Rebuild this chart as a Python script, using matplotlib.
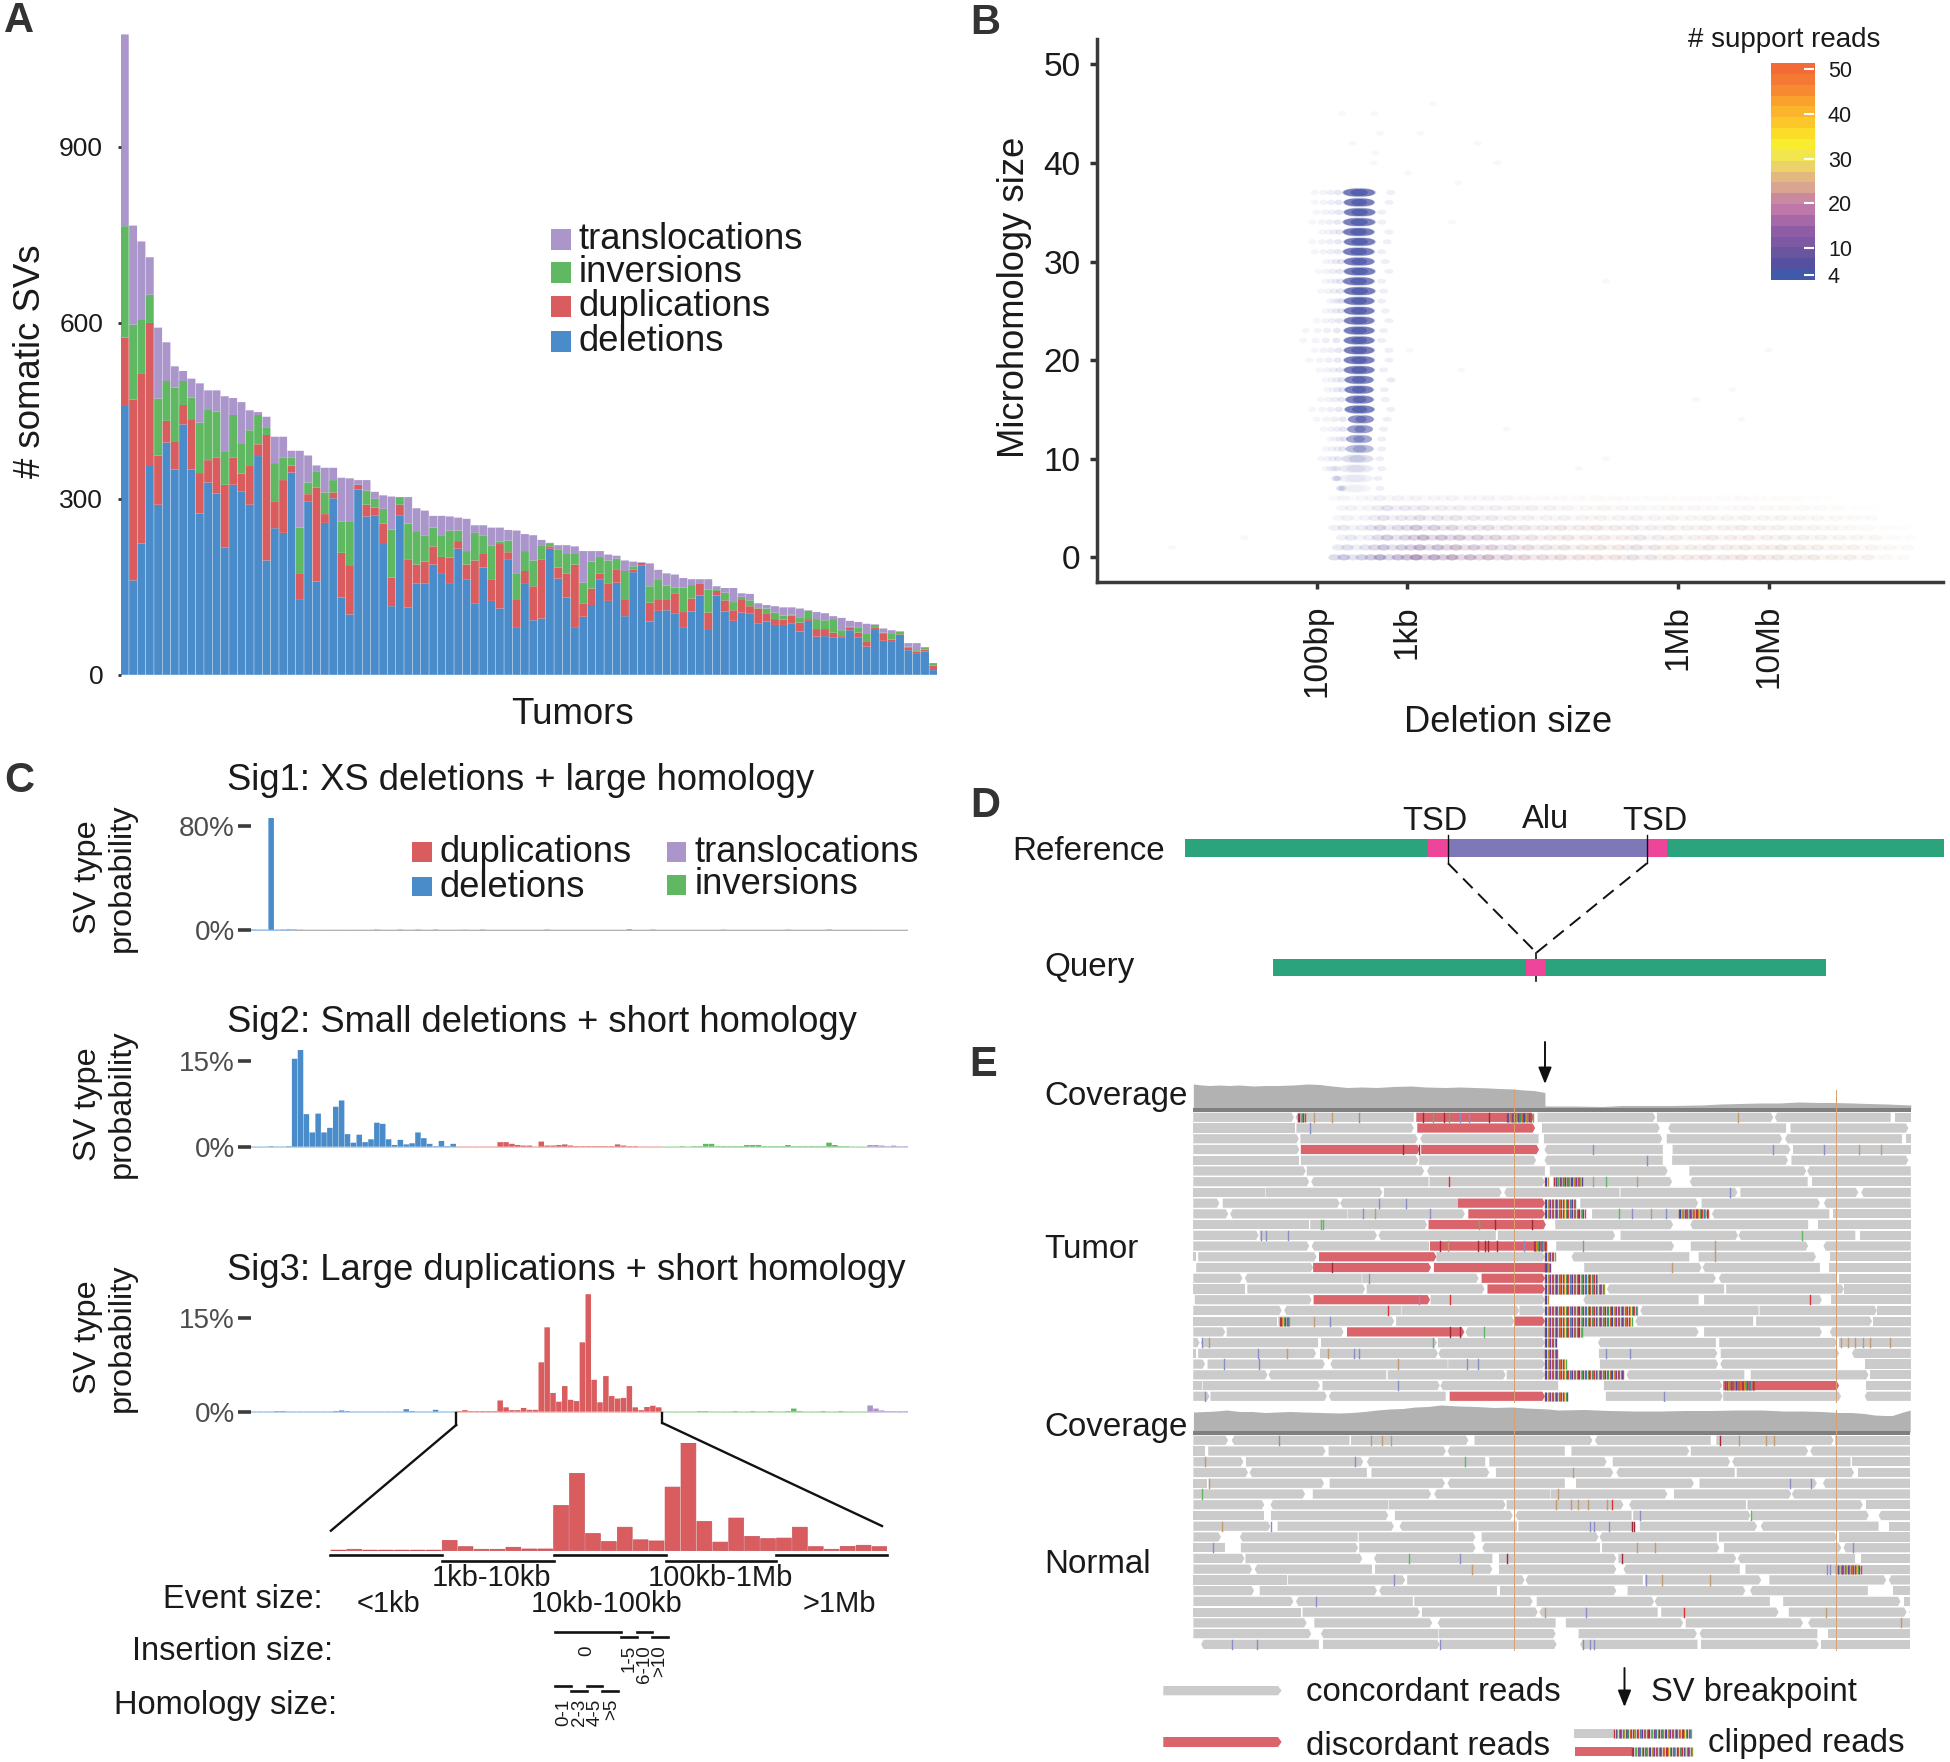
import matplotlib
matplotlib.use('Agg')
import matplotlib.pyplot as plt
import numpy as np
from matplotlib.collections import PolyCollection
from matplotlib.colors import ListedColormap
from matplotlib.patches import Ellipse, Rectangle

plt.rcParams['font.family'] = ['Liberation Sans', 'DejaVu Sans']

W, H = 1950, 1762
BLUE, RED, GREEN, PURPLE = '#4a8bca', '#d95d5e', '#60b862', '#aa96ca'
TXT = '#1a1a1a'

# ---- panel A: stacked tops per tumor
a_del = [460, 161, 224, 356, 290, 396, 350, 427, 350, 275, 328, 309, 217, 324, 313, 290, 373, 195, 250, 242,
         345, 129, 295, 159, 259, 301, 132, 103, 316, 270, 272, 223, 117, 272, 115, 156, 156, 188, 172, 155,
         215, 163, 122, 183, 126, 113, 196, 80, 155, 93, 96, 215, 164, 132, 80, 99, 119, 163, 126, 157,
         100, 175, 186, 91, 109, 110, 105, 80, 108, 135, 78, 135, 108, 92, 106, 105, 87, 91, 85, 85,
         87, 74, 92, 65, 66, 64, 63, 76, 64, 48, 78, 58, 56, 68, 42, 37, 40, 8]
a_dup_top = [575, 469, 513, 600, 374, 433, 397, 460, 436, 344, 366, 370, 324, 370, 343, 356, 393, 409, 296, 332,
             357, 172, 308, 319, 274, 311, 208, 187, 324, 290, 285, 258, 166, 290, 197, 188, 193, 219, 201, 200,
             228, 188, 195, 206, 163, 223, 209, 129, 177, 151, 196, 219, 183, 173, 188, 121, 147, 173, 155, 180,
             129, 179, 191, 123, 129, 129, 138, 107, 130, 156, 106, 143, 127, 110, 129, 117, 113, 105, 95, 94,
             101, 89, 95, 78, 78, 72, 66, 80, 72, 56, 80, 71, 60, 69, 47, 40, 43, 16]
a_inv_top = [765, 597, 605, 648, 471, 501, 490, 501, 473, 430, 453, 449, 380, 443, 395, 417, 443, 421, 361, 370,
             370, 251, 328, 346, 311, 332, 261, 262, 324, 314, 300, 283, 248, 303, 258, 245, 237, 251, 238, 246,
             246, 211, 242, 237, 220, 227, 229, 172, 211, 195, 221, 223, 213, 206, 206, 157, 193, 201, 195, 198,
             177, 185, 191, 151, 163, 152, 149, 149, 153, 156, 145, 146, 140, 124, 133, 127, 114, 113, 106, 101,
             103, 97, 109, 95, 93, 95, 76, 82, 80, 71, 85, 72, 71, 74, 48, 42, 47, 20]
a_total = [1092, 766, 739, 712, 592, 567, 526, 518, 505, 497, 485, 485, 475, 472, 465, 451, 448, 440, 406, 406,
           382, 382, 374, 357, 353, 353, 336, 335, 332, 332, 312, 306, 304, 303, 303, 284, 280, 271, 271, 270,
           268, 266, 255, 255, 251, 251, 247, 246, 240, 238, 230, 225, 221, 221, 219, 211, 211, 211, 205, 203,
           195, 193, 192, 190, 179, 173, 171, 165, 163, 163, 163, 151, 148, 148, 139, 138, 122, 119, 117, 115,
           115, 113, 110, 107, 105, 100, 97, 92, 90, 87, 86, 79, 76, 74, 54, 54, 47, 20]
a_ticks = [0, 300, 600, 900]

# ---- panel B
mh_rows = list(range(7, 38))
blob_strength = [.05, .08, .12, .2, .42, .58, .66, .76, .9, .86, .9, .88, .92, .92, .94, .94, .95, .92, .94, .94,
                 .96, .92, .95, .92, .94, .95, .96, .92, .94, .94, .96]
blob_left = [2.25, 2.24, 2.25, 2.28, 2.33, 2.34, 2.35, 2.36, 2.32, 2.33, 2.32, 2.32, 2.31, 2.31, 2.31, 2.31, 2.31,
             2.31, 2.31, 2.31, 2.31, 2.30, 2.31, 2.31, 2.30, 2.31, 2.30, 2.30, 2.31, 2.31, 2.30]
blob_right = [2.6, 2.62, 2.62, 2.62, 2.62, 2.6, 2.61, 2.62, 2.63, 2.62, 2.62, 2.62, 2.63, 2.63, 2.63, 2.63, 2.63,
              2.63, 2.63, 2.63, 2.64, 2.63, 2.64, 2.63, 2.63, 2.64, 2.63, 2.64, 2.64, 2.63, 2.64]
tail_left = [2.3, 2.2, 2.1, 2.05, 2.1, 2.15, 2.08, 2.0, 1.95, 2.05, 2.12, 2.1, 2.03, 1.92, 1.98, 1.85, 1.88, 2.0,
             2.1, 2.15, 2.05, 2.1, 2.02, 2.1, 1.98, 1.95, 2.06, 1.95, 2.0, 1.98, 1.98]
tail_right = [2.7, 2.68, 2.72, 2.7, 2.72, 2.72, 2.74, 2.78, 2.82, 2.76, 2.75, 2.82, 2.74, 2.8, 2.8, 2.72, 2.74, 2.8,
              2.76, 2.72, 2.74, 2.72, 2.8, 2.76, 2.72, 2.78, 2.8, 2.72, 2.72, 2.8, 2.82]
band_sizes = [2.35, 2.75, 3.15, 3.55, 3.95, 4.35, 4.75, 5.15, 5.55, 5.95, 6.35, 6.75, 7.15, 7.55, 7.95, 8.35]
band_colors = ['#7e80b8', '#8a78b0', '#9478a8', '#a07ca4', '#a985a4', '#b88ea2', '#c0989c', '#c89c94',
               '#bca0ac', '#c8a898', '#c8a09c', '#cca89a', '#c8ac98', '#d0b098', '#d4b4a0', '#d8bca8']
band_alpha = [[25, 35, 42, 36, 30, 22, 20, 18, 18, 16, 16, 18, 16, 14, 12, 5],
              [15, 25, 32, 28, 22, 18, 16, 16, 18, 14, 14, 14, 16, 12, 10, 6],
              [10, 22, 30, 25, 20, 14, 14, 12, 14, 12, 12, 12, 12, 10, 8, 3],
              [10, 18, 24, 18, 16, 14, 14, 14, 12, 12, 10, 12, 10, 8, 5, 2],
              [6, 12, 14, 12, 10, 8, 8, 8, 8, 8, 8, 8, 8, 6, 4, 0],
              [6, 12, 10, 8, 8, 8, 6, 6, 5, 6, 4, 5, 4, 3, 1, 0],
              [4, 6, 5, 5, 5, 3, 3, 3, 2, 2, 2, 3, 2, 1, 0, 0]]
stray_size = [2.28, 2.64, 3.29, 2.70, 3.15, 2.40, 3.78, 2.65, 2.63, 4.0, 3.01, 3.57, 3.5, 3.03, 2.83, 5.2,
              5.2, 7.0, 4.9, 3.6, 4.1, 1.2, 0.4, 6.6, 6.7, 6.2]
stray_mh = [45, 45, 46, 43, 43, 42, 42, 41, 40, 40, 39, 38, 34, 21, 18, 28,
            10, 21, 9, 19, 13, 2, 1, 17, 14, 16]
b_xticks = [2, 3, 6, 7]
b_xlabels = ['100bp', '1kb', '1Mb', '10Mb']
b_yticks = [0, 10, 20, 30, 40, 50]
cbar_colors = ['#4059a8', '#55509f', '#6a559f', '#7d58a3', '#8e5da6', '#a768a8', '#bd78a9', '#c98aa0', '#d9a590',
               '#e3b87f', '#ebd36a', '#f2e64f', '#f8ec2f', '#fbdc28', '#fcc829', '#fbb42b', '#f9a02d', '#f78a30',
               '#f47a33', '#f26b36']
cbar_ticks = [4, 10, 20, 30, 40, 50]

# ---- panel C: 35 bins for del, dup, inv and 7 for translocations
sig1_del = [.3, .2, .2, 86, .2, .3, .4, .3, .2, .1, .1, .1, .1, .1, .1, .1, .1, .1, .1, .1,
            .1, .3, .1, .1, .1, .3, .1, .1, .3, .1, .1, .3, .1, .1, .1]
sig1_dup = [.1, .2, .1, .1, .3, .1, .1, .1, .1, .1, .1, .1, .1, .1, .1, .3, .1, .1, .1, .1,
            .1, .1, .1, .1, .1, .1, .1, .1, .1, .5, .1, .1, .1, .3, .1]
sig1_inv = [.1, .1, .1, .1, .1, .1, .1, .1, .1, .1, .3, .1, .1, .1, .1, .1, .1, .1, .1, .1,
            .1, .3, .1, .1, .1, .1, .1, .1, .4, .1, .1, .1, .1, .1, .1]
sig1_tra = [.1, .1, .1, .1, .1, .1, .1]
sig2_del = [.05, .05, .05, .1, .05, .05, .1, 15.4, 17.1, 5.7, 2.5, 5.8, 2.5, 3.3, 7.0, 8.1, 2.2, .7, 2.1, .8,
            1.3, 4.2, 4.0, 1.3, .3, 1.2, .4, .6, 2.5, 1.5, .5, .1, 1.0, .1, .5]
sig2_dup = [.05, .05, .05, .05, .05, .05, .05, .8, .8, .5, .3, .2, .2, .05, .9, .2, .2, .3, .4, .2,
            .1, .1, .1, .1, .1, .1, .1, .4, .2, .1, .1, .05, .05, .05, .05]
sig2_inv = [.05, .05, .05, .1, .05, .1, .1, .5, .5, .1, .1, .1, .1, .1, .3, .3, .3, .1, .1, .1,
            .1, .3, .1, .1, .1, .1, .1, .1, .7, .3, .1, .1, .05, .05, .05]
sig2_tra = [.3, .3, .2, .1, .2, .1, .1]
sig3_del = [.05, .05, .05, .05, .1, .1, .05, .05, .05, .05, .05, .05, .05, .05, .1, .2, .1, .05, .05, .05,
            .05, .05, .05, .05, .05, .05, .4, .1, .05, .05, .05, .3, .05, .05, .05]
sig3_dup = [.1, .25, .1, .1, .1, .1, .1, 1.8, .7, .25, .25, .6, .3, .3, 7.9, 13.5, 3.0, 1.6, 4.1, 1.9,
            1.7, 11.1, 18.8, 5.1, 1.5, 5.7, 2.5, 2.1, 2.2, 4.1, .7, .25, .75, .95, .7]
sig3_inv = [.05, .05, .05, .05, .05, .05, .1, .1, .05, .05, .05, .05, .1, .05, .05, .1, .05, .05, .1, .05,
            .05, .1, .5, .1, .05, .05, .05, .1, .05, .05, .1, .05, .05, .05, .05]
sig3_tra = [1.0, .5, .2, .1, .1, .1, .1]

# ---- panel E: reads in track coordinates
tumor_reads = [
    [(27, 232), (235, 476), (728, 968), (971, 1208), (1211, 1447), (1456, 1488)],
    [(27, 235), (237, 476), (737, 977), (994, 1234), (1243, 1483)],
    [(27, 242), (245, 484), (489, 730), (741, 982), (991, 1226), (1232, 1470), (1478, 1488)],
    [(27, 243), (742, 983), (1003, 1243), (1248, 1488)],
    [(27, 243), (246, 485), (487, 725), (742, 983), (1002, 1238), (1245, 1483)],
    [(27, 256), (258, 497), (503, 743), (753, 993), (1037, 1275), (1277, 1488)],
    [(27, 263), (267, 506), (508, 743), (760, 1002), (1038, 1278), (1286, 1488)],
    [(27, 172), (174, 412), (415, 655), (660, 895), (897, 1135), (1141, 1381), (1387, 1488)],
    [(27, 80), (87, 325), (326, 566), (815, 1055), (1062, 1303), (1311, 1488)],
    [(27, 98), (102, 341), (342, 580), (839, 1075), (1083, 1322), (1330, 1488)],
    [(27, 263), (265, 503), (764, 1004), (1039, 1279), (1299, 1488)],
    [(27, 160), (162, 401), (404, 643), (647, 886), (897, 1136), (1137, 1375), (1385, 1488)],
    [(27, 263), (268, 507), (766, 1006), (1040, 1279), (1310, 1488)],
    [(27, 33), (37, 278), (522, 743), (797, 1037), (1056, 1295), (1323, 1488)],
    [(33, 271), (823, 1062), (1064, 1303), (1321, 1488)],
    [(27, 127), (132, 370), (371, 608), (852, 1091), (1097, 1336), (1341, 1488)],
    [(27, 132), (137, 377), (380, 620), (869, 1108), (1112, 1352), (1352, 1488)],
    [(30, 268), (510, 743), (821, 1056), (1067, 1307), (1325, 1488)],
    [(27, 207), (212, 451), (452, 691), (691, 743), (937, 1178), (1180, 1419), (1420, 1488)],
    [(27, 198), (200, 436), (440, 681), (927, 1167), (1173, 1409), (1411, 1488)],
    [(27, 92), (95, 333), (581, 743), (820, 1056), (1067, 1307), (1323, 1488)],
    [(27, 40), (42, 281), (287, 523), (525, 743), (851, 1091), (1098, 1338), (1342, 1488)],
    [(27, 33), (37, 277), (285, 525), (526, 743), (853, 1094), (1101, 1342), (1368, 1488)],
    [(27, 51), (56, 295), (306, 545), (546, 743), (855, 1096), (1100, 1339), (1395, 1488)],
    [(27, 178), (180, 420), (423, 663), (665, 743), (909, 1149), (1162, 1402), (1404, 1488)],
    [(27, 44), (46, 285), (290, 529), (530, 770), (863, 1104), (1397, 1488)],
    [(27, 60), (62, 299), (303, 541), (867, 1105), (1106, 1346), (1394, 1488)],
]
tumor_red = [(0, 481, 721), (1, 483, 723), (3, 246, 488), (3, 491, 731), (8, 566, 743), (9, 587, 743),
             (10, 506, 745), (12, 509, 748), (13, 283, 522), (14, 271, 511), (14, 517, 755), (15, 614, 743),
             (16, 626, 743), (17, 272, 509), (19, 682, 743), (20, 340, 579), (25, 1106, 1342), (26, 549, 743)]
tumor_clips = [(0, 665, 721), (6, 743, 749), (6, 762, 820), (8, 743, 807), (9, 743, 825), (9, 1016, 1075),
               (12, 720, 748), (13, 743, 763), (14, 743, 755), (15, 743, 850), (16, 743, 866), (17, 743, 750),
               (18, 743, 933), (19, 743, 922), (20, 743, 820), (21, 743, 768), (22, 743, 769), (23, 743, 786),
               (24, 743, 905), (25, 1110, 1170), (26, 743, 788), (0, 240, 256), (19, 203, 225)]
tumor_mism = [(0, 272, 'o'), (0, 310, 'o'), (0, 365, 'b'), (0, 1136, 'o'), (0, 495, 'd'), (0, 515, 'g'), (0, 537, 'd'),
              (0, 548, 'g'), (0, 570, 'b'), (0, 588, 'b'), (0, 630, 'd'),
              (1, 265, 'b'), (3, 840, 'b'), (3, 1207, 'b'),
              (3, 1311, 'b'), (3, 1382, 'o'), (3, 1428, 'o'), (3, 453, 'd'), (3, 487, 'd'), (4, 950, 'b'), (6, 548, 'r'),
              (6, 840, 'o'), (6, 868, 'g'), (6, 930, 'o'), (7, 1119, 'b'), (8, 405, 'b'), (8, 460, 'b'), (9, 372, 'b'),
              (9, 397, 'o'), (9, 508, 'b'), (9, 893, 'g'), (9, 920, 'b'), (9, 960, 'o'), (9, 990, 'b'), (10, 287, 'g'),
              (10, 292, 'g'), (10, 608, 'g'), (10, 642, 'd'), (10, 717, 'd'), (11, 165, 'b'), (11, 175, 'b'), (11, 219, 'b'),
              (11, 1266, 'g'), (12, 530, 'd'), (12, 545, 'o'), (12, 606, 'd'), (12, 620, 'd'), (12, 628, 'd'), (12, 645, 'd'),
              (12, 700, 'b'), (12, 820, 'b'), (12, 1089, 'o'), (13, 1089, 'o'),
              (14, 310, 'd'), (14, 1002, 'o'), (15, 385, 'b'), (17, 486, 'b'), (17, 550, 'r'), (17, 1282, 'r'), (18, 424, 'r'),
              (19, 272, 'o'), (19, 305, 'b'), (20, 549, 'd'), (20, 570, 'd'), (20, 618, 'g'), (21, 45, 'b'), (21, 58, 'o'),
              (21, 515, 'g'), (21, 1345, 'o'), (21, 1360, 'o'), (21, 1375, 'o'), (21, 1390, 'o'), (21, 1405, 'o'),
              (21, 1445, 'o'), (22, 158, 'b'), (22, 218, 'o'), (22, 302, 'o'), (22, 355, 'b'), (22, 365, 'b'), (22, 868, 'b'),
              (22, 917, 'b'), (23, 90, 'b'), (23, 160, 'b'), (23, 444, 'o'), (23, 585, 'b'), (23, 607, 'b'), (25, 444, 'b'),
              (26, 50, 'b'), (26, 985, 'b')]
tumor_cov_x = [27, 45, 60, 80, 100, 120, 150, 175, 200, 230, 260, 285, 300, 320, 340, 370, 400, 435, 470, 500, 540, 570,
               600, 630, 650, 680, 700, 720, 743, 743, 800, 860, 900, 960, 1000, 1060, 1100, 1140, 1180, 1220, 1260,
               1300, 1330, 1370, 1400, 1440, 1488]
tumor_cov = [24, 23, 22.5, 23, 22.5, 23, 22, 22.5, 22.5, 23, 24, 23.5, 22.5, 21.5, 20.5, 21, 20.5, 21.5, 22, 21, 20.5, 21,
             20.5, 20, 19.5, 19, 18, 17.5, 15.5, 2, 2, 1.5, 2.5, 2.5, 2.5, 3, 4, 4.5, 5, 5, 6,
             5.5, 5.5, 5, 4.5, 4, 3]

normal_reads = [
    [(85, 153), (160, 391), (394, 624), (636, 867), (872, 1099), (1110, 1340), (1343, 1490)],
    [(85, 107), (114, 344), (350, 580), (583, 813), (826, 1057), (1060, 1290), (1294, 1490)],
    [(85, 183), (188, 418), (425, 657), (665, 895), (907, 1137), (1141, 1373), (1376, 1490)],
    [(85, 192), (195, 425), (434, 665), (678, 908), (914, 1146), (1150, 1380), (1387, 1490)],
    [(85, 112), (115, 341), (352, 578), (583, 813), (835, 1066), (1077, 1307), (1319, 1490)],
    [(85, 304), (319, 551), (557, 784), (785, 1014), (1027, 1257), (1258, 1490)],
    [(85, 224), (236, 467), (468, 697), (699, 928), (939, 1168), (1171, 1397), (1403, 1490)],
    [(85, 224), (237, 467), (480, 711), (716, 944), (947, 1177), (1180, 1409), (1428, 1490)],
    [(85, 236), (250, 478), (489, 719), (722, 952), (960, 1190), (1197, 1428), (1448, 1490)],
    [(85, 139), (176, 407), (409, 638), (650, 879), (881, 1111), (1115, 1347), (1350, 1490)],
    [(85, 147), (178, 408), (410, 638), (651, 882), (886, 1116), (1125, 1355), (1359, 1490)],
    [(85, 185), (187, 416), (439, 671), (684, 914), (918, 1149), (1152, 1382), (1393, 1490)],
    [(85, 200), (205, 435), (441, 671), (684, 914), (928, 1156), (1167, 1395), (1395, 1490)],
    [(85, 269), (270, 500), (504, 734), (736, 966), (970, 1198), (1214, 1443), (1448, 1490)],
    [(85, 204), (215, 445), (449, 680), (686, 914), (936, 1167), (1176, 1407), (1456, 1490)],
    [(85, 281), (286, 515), (518, 750), (758, 988), (989, 1215), (1241, 1471), (1477, 1490)],
    [(85, 295), (299, 529), (533, 760), (763, 995), (1002, 1232), (1252, 1483), (1488, 1490)],
    [(85, 307), (322, 553), (564, 795), (815, 1045), (1050, 1280), (1290, 1490)],
    [(85, 316), (335, 565), (566, 795), (840, 1072), (1077, 1308), (1328, 1490)],
    [(100, 331), (339, 568), (569, 797), (843, 1073), (1080, 1311), (1315, 1490)],
]
normal_clips = [(12, 1345, 1395)]
normal_mism = [(0, 252, 'b'), (0, 433, 'o'), (0, 455, 'o'), (0, 472, 'o'), (0, 1118, 'd'), (0, 1155, 'o'), (0, 1207, 'o'),
               (0, 1224, 'o'), (2, 107, 'o'), (2, 402, 'b'), (2, 617, 'g'), (3, 829, 'o'), (4, 115, 'o'), (4, 1254, 'b'),
               (4, 1296, 'b'), (5, 101, 'g'), (5, 799, 'o'), (6, 795, 'o'), (6, 825, 'o'), (6, 838, 'o'), (6, 858, 'o'),
               (6, 896, 'o'), (6, 906, 'r'), (7, 960, 'b'), (7, 1178, 'g'), (8, 141, 'o'), (8, 237, 'b'), (8, 862, 'b'),
               (8, 870, 'b'), (8, 899, 'b'), (8, 945, 'd'), (8, 949, 'd'), (10, 124, 'b'), (10, 954, 'o'), (10, 990, 'o'),
               (10, 1378, 'b'), (11, 508, 'g'), (11, 607, 'b'), (11, 700, 'd'), (11, 925, 'd'), (12, 631, 'o'),
               (12, 1326, 'b'), (12, 1333, 'b'), (13, 478, 'b'), (13, 972, 'b'), (13, 1003, 'o'), (13, 1097, 'o'),
               (15, 326, 'b'), (16, 774, 'o'), (16, 855, 'b'), (16, 1046, 'r'), (16, 1324, 'o'), (17, 1471, 'o'),
               (19, 161, 'b'), (19, 210, 'b'), (19, 568, 'b'), (19, 848, 'b'), (19, 862, 'b'), (19, 870, 'b')]
normal_cov_x = [85, 110, 130, 150, 175, 200, 225, 250, 275, 300, 335, 370, 395, 420, 445, 470, 495, 520, 545, 570, 605,
                640, 675, 710, 735, 760, 780, 800, 850, 900, 950, 1000, 1050, 1100, 1150, 1200, 1240, 1280, 1315, 1350,
                1375, 1400, 1420, 1440, 1455, 1470, 1490]
normal_cov = [20, 20.5, 21, 22, 20.5, 20.5, 19.5, 20, 20.5, 20, 19.5, 19, 19.5, 20.5, 22, 23, 23.5, 25, 25.5, 27, 26,
              25.5, 24.5, 25, 24, 23.5, 23, 22, 22.5, 21.5, 21, 21, 21.5, 21.5, 22, 22, 21, 21, 20.5, 19.5,
              19.5, 18.5, 17, 16.5, 16.5, 19, 22]

STRIPES = ['#c8323c', '#3b4aa8', '#d98a28', '#4fae4f', '#7b3f98', '#d8423c', '#3f78b8', '#9aa030', '#5a3fa0', '#c8503c',
           '#2f9a6a', '#e06a2c']
MISM = {'b': '#8a8ec8', 'o': '#c49a70', 'g': '#5fb85f', 'r': '#e03030', 'd': '#a02838'}


def px_axes(fig, left, top, right, bottom):
    return fig.add_axes([left / W, 1 - bottom / H, (right - left) / W, (bottom - top) / H])


fig = plt.figure(figsize=(W / 100, H / 100), dpi=100)

# overlay in figure pixels for the schematic parts and free text
ov = fig.add_axes([0, 0, 1, 1], zorder=10)
ov.set_xlim(0, W)
ov.set_ylim(H, 0)
ov.axis('off')
ov.patch.set_alpha(0)


def label(x, y, s, size, ha='left', rot=0, va='center', weight='normal', color=TXT):
    ov.text(x, y, s, fontsize=size, ha=ha, va=va, rotation=rot, fontweight=weight, color=color)


def box(x0, y0, x1, y1, color, zorder=2):
    ov.add_patch(Rectangle((x0, y0), x1 - x0, y1 - y0, facecolor=color, edgecolor='none', zorder=zorder))


for s, x, y in [('A', 4, 21), ('B', 970, 23), ('C', 4, 781), ('D', 970, 806), ('E', 969, 1065)]:
    label(x, y, s, 30, weight='bold', color='#333333')

# ---- A
ax = px_axes(fig, 120.6, 34.4, 937.5, 674.8)
xs = np.arange(len(a_total))
ax.bar(xs, a_del, width=0.95, color=BLUE, snap=False)
ax.bar(xs, np.array(a_dup_top) - np.array(a_del), bottom=a_del, width=0.95, color=RED, snap=False)
ax.bar(xs, np.array(a_inv_top) - np.array(a_dup_top), bottom=a_dup_top, width=0.95, color=GREEN, snap=False)
ax.bar(xs, np.array(a_total) - np.array(a_inv_top), bottom=a_inv_top, width=0.95, color=PURPLE, snap=False)
ax.set_xlim(-0.5, len(a_total) - 0.5)
ax.set_ylim(0, 1092)
ax.set_xticks([])
ax.set_yticks(a_ticks)
ax.tick_params(axis='y', length=2.5, width=2, color='#333333', labelsize=19, pad=10, labelcolor=TXT)
for sp in ax.spines.values():
    sp.set_visible(False)
label(31, 361, '# somatic SVs', 26.4, ha='center', rot=90)
label(572.6, 715, 'Tumors', 26.4, ha='center')
for name, col, y0, y in [('translocations', PURPLE, 229, 239.5), ('inversions', GREEN, 262, 272.5),
                         ('duplications', RED, 296, 307), ('deletions', BLUE, 331, 341.5)]:
    box(551, y0, 571, y0 + 21, col)
    label(578.7, y, name, 26.2)

# ---- B
ax = px_axes(fig, 1097, 38.7, 1943, 582)
ax.set_xlim(-0.43, 8.93)
ax.set_ylim(-2.5, 52.6)
grain_off = [-.15, -.05, .05, .15]
grain_mult = [.8, 1.2, .6, 1.0]
for k, row in enumerate(band_alpha):
    for size, col, al in zip(band_sizes, band_colors, row):
        if al > 0:
            for off, mult in zip(grain_off, grain_mult):
                ax.add_patch(Ellipse((size + off + 0.04 * (k % 3), k), 0.14, 0.62, facecolor=col, edgecolor='none',
                                     alpha=min(1, 1.35 * mult * al / 100)))
for y, st, l, r, tl, tr in zip(mh_rows, blob_strength, blob_left, blob_right, tail_left, tail_right):
    for frac, al in zip([0, .3, .55, .8], [.08, .1, .14, .2]):
        ax.add_patch(Ellipse((tl + frac * (l - tl), y), 0.09, 0.55, facecolor='#8a90cc', edgecolor='none', alpha=al))
    ax.add_patch(Ellipse((tr, y), 0.1, 0.5, facecolor='#8a90cc', edgecolor='none', alpha=0.14))
    mid = (l + r) / 2
    w = r - l
    ax.add_patch(Ellipse((mid, y), w * 1.12, 0.95, facecolor='#4a54a6', edgecolor='none', alpha=0.25 * st))
    # two overlapping ellipses give the flat-ended pill shape of the rows
    for off in [-0.04, 0.04]:
        ax.add_patch(Ellipse((mid + off, y), w * 0.8, 0.78, facecolor='#4a54a6', edgecolor='none', alpha=0.72 * st))
for sx, sy in zip(stray_size, stray_mh):
    ax.add_patch(Ellipse((sx, sy), 0.09, 0.5, facecolor='#a0a0c8', edgecolor='none', alpha=0.07))
ax.set_xticks(b_xticks)
ax.set_xticklabels(b_xlabels, rotation=90)
ax.set_yticks(b_yticks)
ax.tick_params(axis='both', length=5, width=2.5, color='#333333', labelsize=24, labelcolor=TXT)
ax.tick_params(axis='x', pad=11.5)
ax.tick_params(axis='y', pad=7)
for sp in ['top', 'right']:
    ax.spines[sp].set_visible(False)
for sp in ['left', 'bottom']:
    ax.spines[sp].set_linewidth(2.5)
    ax.spines[sp].set_color('#3a3a3a')
label(1014, 297, 'Microhomology size', 26.2, ha='center', rot=90)
label(1508, 722, 'Deletion size', 26.2, ha='center')
label(1784, 40, '# support reads', 20, ha='center')

cax = px_axes(fig, 1770.6, 62.8, 1814, 279.8)
cax.imshow(np.arange(len(cbar_colors))[:, None], aspect='auto', origin='lower', cmap=ListedColormap(cbar_colors),
           extent=[0, 1, 2.86, 51.5])
cax.set_xticks([])
cax.set_yticks(cbar_ticks)
cax.tick_params(axis='y', left=False, right=True, labelleft=False, labelright=True, direction='in', color='white',
                length=7, width=1.5, labelsize=15.5, pad=10, labelcolor=TXT)
for sp in cax.spines.values():
    sp.set_visible(False)


# ---- C
def draw_bins(a, dels, dups, invs, tras):
    a.bar(np.arange(35), dels, width=0.94, color=BLUE, snap=False)
    a.bar(np.arange(35, 70), dups, width=0.94, color=RED, snap=False)
    a.bar(np.arange(70, 105), invs, width=0.94, color=GREEN, snap=False)
    a.bar(np.arange(105, 112), tras, width=0.94, color=PURPLE, snap=False)


def sig_axes(top, zero, per_unit, ticks, ticklabels, grey_base=False):
    a = px_axes(fig, 250.6, top, 908.3, zero + 1)
    a.set_xlim(-0.5, 111.5)
    a.set_ylim(-1 / per_unit, (zero - top) / per_unit)
    a.set_xticks([])
    a.set_yticks(ticks)
    a.set_yticklabels(ticklabels)
    a.tick_params(axis='y', length=9.4, width=2.6, color='#3c3c3c', labelsize=20, pad=2, labelcolor='#4d4d4d')
    for sp in a.spines.values():
        sp.set_visible(False)
    if grey_base:
        a.plot([-.5, 7], [0, 0], color='#9cc0e4', lw=1.0, zorder=0)
        a.plot([7, 111.5], [0, 0], color='#b4b4b4', lw=1.0, zorder=5)
    else:
        for x0, x1, c in [(-.5, 34.5, '#b8d4ee'), (34.5, 69.5, '#f4c4c4'), (69.5, 104.5, '#bfe3bf'),
                          (104.5, 111.5, '#d8cce8')]:
            a.plot([x0, x1], [0, 0], color=c, lw=1.0, zorder=0)
    return a


ax = sig_axes(815, 929.8, 1.3, [0, 80], ['0%', '80%'], grey_base=True)
draw_bins(ax, sig1_del, sig1_dup, sig1_inv, sig1_tra)
ax = sig_axes(1050, 1146.7, 5.71, [0, 15], ['0%', '15%'])
draw_bins(ax, sig2_del, sig2_dup, sig2_inv, sig2_tra)
ax = sig_axes(1290, 1411.7, 6.25, [0, 15], ['0%', '15%'])
draw_bins(ax, sig3_del, sig3_dup, sig3_inv, sig3_tra)

for s, y in [('Sig1: XS deletions + large homology', 780), ('Sig2: Small deletions + short homology', 1022),
             ('Sig3: Large duplications + short homology', 1271)]:
    label(226.6, y, s, 26.2)
for y in [877.5, 1104, 1337.5]:
    ov.text(105, y, 'SV type\nprobability', fontsize=23.4, ha='center', va='center', rotation=90, color=TXT,
            multialignment='center', linespacing=1.15)
for name, col, x, y0, y in [('duplications', RED, 411.9, 842.3, 852.5), ('deletions', BLUE, 411.9, 876.7, 887.5),
                            ('translocations', PURPLE, 666.7, 842.3, 852.5), ('inversions', GREEN, 666.7, 875, 884)]:
    box(x, y0, x + 19.6, y0 + 19.6, col)
    label(x + 27.5, y, name, 26.2)

# zoomed duplications of Sig3
ax = px_axes(fig, 330.3, 1443, 887.4, 1550.7)
ax.bar(np.arange(35), sig3_dup, width=0.93, color=RED, edgecolor='#c85058', linewidth=0.5, snap=False)
ax.set_xlim(-0.5, 34.5)
ax.set_ylim(0, 18.8)
ax.axis('off')

for x0, y0, x1, y1 in [(456.2, 1413, 456.2, 1425), (456.2, 1425, 330.9, 1530.7), (662.4, 1413, 662.4, 1423),
                       (662.4, 1423, 882, 1526)]:
    ov.plot([x0, x1], [y0, y1], color='#111111', lw=1.7)
for k, (x0, x1) in enumerate([(330.3, 441.7), (441.7, 554), (554, 665.6), (665.6, 776), (776, 887.4)]):
    y = 1555 if k % 2 == 0 else 1561
    ov.plot([x0, x1], [y, y], color='#111111', lw=1.9)
for s, x, y in [('1kb-10kb', 491, 1578), ('100kb-1Mb', 720, 1578), ('<1kb', 388, 1604), ('10kb-100kb', 606.7, 1604),
                ('>1Mb', 839, 1604)]:
    label(x, y, s, 21, ha='center')
label(322.3, 1599.5, 'Event size:', 23.5, ha='right')
label(333, 1651.5, 'Insertion size:', 23.5, ha='right')
label(337.3, 1705.5, 'Homology size:', 23.5, ha='right')
for x0, x1, y in [(555.3, 620.6, 1631.7), (621, 636.7, 1637), (636.7, 652.2, 1631.7), (652.2, 667.8, 1637),
                  (555.3, 571.3, 1686), (571.3, 586.9, 1691), (586.9, 602.4, 1686), (602.4, 618, 1691)]:
    ov.plot([x0, x1], [y, y], color='#111111', lw=1.9)
for s, x, y in [('0', 586.3, 1645), ('1-5', 629, 1645), ('6-10', 644.7, 1645), ('>10', 659.7, 1645),
                ('0-1', 563.3, 1699), ('2-3', 579.4, 1699), ('4-5', 595.4, 1699), ('>5', 611.5, 1699)]:
    label(x, y, s, 13.5, ha='center', rot=90, va='top')

# ---- D
TEAL, PINK, ALU = '#2ba37c', '#ec4599', '#7f78b8'
box(1184.7, 839.3, 1943.6, 856.7, TEAL)
box(1427.8, 839.3, 1448, 856.7, PINK, 3)
box(1448, 839.3, 1646.9, 856.7, ALU, 3)
box(1646.9, 839.3, 1667, 856.7, PINK, 3)
box(1273, 958.7, 1826, 976, TEAL)
box(1525.7, 958.7, 1545.9, 976, PINK, 3)
for x in [1448, 1646.9]:
    ov.plot([x, x], [835, 863.3], color='#111111', lw=1.0, zorder=4)
    ov.plot([x, 1536.4], [863.3, 952.7], color='#111111', lw=1.4, ls=(0, (7, 4)), zorder=4)
ov.plot([1536.4, 1536.4], [952.7, 958.7], color='#111111', lw=1.2)
ov.plot([1536.4, 1536.4], [976, 981], color='#111111', lw=1.2)
label(1088.8, 851.5, 'Reference', 23.9, ha='center')
label(1089.4, 967.5, 'Query', 23.9, ha='center')
label(1434.7, 821.5, 'TSD', 23.5, ha='center')
label(1654.4, 821.5, 'TSD', 23.5, ha='center')
label(1545.9, 819.5, 'Alu', 23.5, ha='center')


# ---- E
def read_poly(row, x0, x1, point_left, tip, lo, hi, h=0.43):
    left_edge = x0 <= lo
    right_edge = x1 >= hi
    if point_left and not left_edge:
        return [(x0 + tip, row - h), (x1, row - h), (x1, row + h), (x0 + tip, row + h), (x0, row)]
    if not point_left and not right_edge:
        return [(x0, row - h), (x1 - tip, row - h), (x1, row), (x1 - tip, row + h), (x0, row + h)]
    return [(x0, row - h), (x1, row - h), (x1, row + h), (x0, row + h)]


def draw_track(a, reads, reds, clips, mism, lo, hi):
    polys = []
    for r, row_reads in enumerate(reads):
        for k, (x0, x1) in enumerate(row_reads):
            polys.append(read_poly(r, x0, x1, (k + r) % 3 == 1, 5, lo, hi))
    a.add_collection(PolyCollection(polys, facecolors='#cbcbcb', edgecolors='none', zorder=1))
    polys = [read_poly(r, x0, x1, False, 5, lo, hi) for r, x0, x1 in reds]
    if polys:
        a.add_collection(PolyCollection(polys, facecolors='#da646b', edgecolors='none', zorder=2))
    for r, x, c in mism:
        a.plot([x, x], [r - 0.43, r + 0.43], color=MISM[c], lw=1.0, zorder=3)
    for r, x0, x1 in clips:
        px = np.arange(x0, x1, 2.8)
        cols = [STRIPES[j % len(STRIPES)] for j in range(len(px))]
        a.vlines(px, r - 0.43, r + 0.43, colors=cols, lw=1.0, zorder=4)
    a.set_xlim(lo, hi)
    a.axis('off')


ax = px_axes(fig, 1193.3, 1112, 1910.8, 1402)
ax.set_ylim((1402 - 1117.3) / 10.73, (1112 - 1117.3) / 10.73)
draw_track(ax, tumor_reads, tumor_red, tumor_clips, tumor_mism, 27, 1488)
ax = px_axes(fig, 1193.4, 1435, 1910.2, 1651)
ax.set_ylim((1651 - 1440.3) / 10.74, (1435 - 1440.3) / 10.74)
draw_track(ax, normal_reads, [], normal_clips, normal_mism, 85, 1490)

ax = px_axes(fig, 1193.3, 1080, 1910.8, 1108)
ax.fill_between(tumor_cov_x, 0, tumor_cov, color='#b2b2b2', lw=0)
ax.set_xlim(27, 1488)
ax.set_ylim(0, 28)
ax.axis('off')
ax = px_axes(fig, 1193.4, 1400, 1910.2, 1432)
ax.fill_between(normal_cov_x, 0, normal_cov, color='#b2b2b2', lw=0)
ax.set_xlim(85, 1490)
ax.set_ylim(0, 32)
ax.axis('off')
box(1193.3, 1107.6, 1910.8, 1111.7, '#7f7f7f')
box(1193.4, 1431, 1910.2, 1435, '#7f7f7f')
for x in [1514, 1835.7]:
    ov.plot([x, x], [1090, 1402], color='#d9a070', lw=0.7, zorder=5)
    ov.plot([x, x], [1410, 1650], color='#d9a070', lw=0.7, zorder=5)

for s, y in [('Coverage', 1096.5), ('Tumor', 1250), ('Coverage', 1427.5), ('Normal', 1564.5)]:
    label(1044.6, y, s, 23.9)


def arrow(x, y0, y1):
    ov.annotate('', xy=(x, y1), xytext=(x, y0),
                arrowprops=dict(arrowstyle='-|>,head_width=0.4,head_length=1.0', color='#111111', lw=1.4,
                                shrinkA=0, shrinkB=0))


arrow(1545, 1042, 1084)
arrow(1624.5, 1668, 1707)

ov.add_patch(plt.Polygon([(1163.3, 1686), (1278, 1686), (1281.6, 1690.6), (1278, 1695.3), (1163.3, 1695.3)],
                         color='#cbcbcb', lw=0))
ov.add_patch(plt.Polygon([(1163.3, 1737), (1278, 1737), (1281.6, 1742), (1278, 1747), (1163.3, 1747)],
                         color='#da646b', lw=0))
label(1305.6, 1692.5, 'concordant reads', 23.8)
label(1305.6, 1746.5, 'discordant reads', 23.8)
label(1651, 1693, 'SV breakpoint', 23.6)
label(1707.7, 1743.5, 'clipped reads', 23.8)
box(1573.5, 1729, 1614.3, 1738, '#cbcbcb')
box(1574.5, 1746.7, 1632, 1756, '#da646b')
for y0, y1, x0 in [(1729, 1738, 1614.3), (1746.7, 1756, 1632)]:
    px = np.arange(x0, 1692.3, 1.4)
    ov.vlines(px, y0, y1, colors=[STRIPES[j % len(STRIPES)] for j in range(len(px))], lw=1.0)

ov.set_xlim(0, W)
ov.set_ylim(H, 0)
fig.savefig('out.png', dpi=100)
